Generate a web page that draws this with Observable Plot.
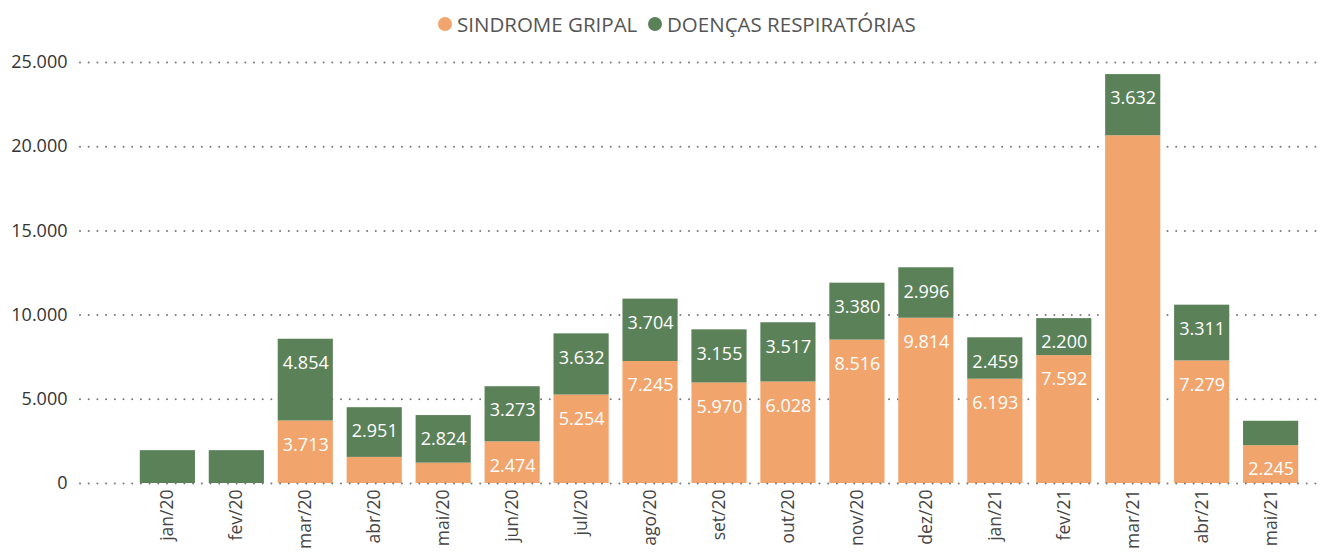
<!DOCTYPE html>
<html>
<head>
<meta charset="utf-8">
<script src="https://cdn.jsdelivr.net/npm/d3@7"></script>
<script src="https://cdn.jsdelivr.net/npm/@observablehq/plot@0.6"></script>
<style>
  html, body { margin: 0; padding: 0; background: #fff; }
  body { width: 1321px; height: 552px; overflow: hidden; font-family: "Open Sans", sans-serif; }
  #legend { position: relative; height: 44px; }
  .item { position: absolute; top: 10px; display: flex; align-items: center; font-size: 20.5px; color: #555; white-space: nowrap; line-height: 28px; }
  .dot { width: 14px; height: 14px; border-radius: 50%; margin-right: 5px; }
</style>
</head>
<body>
<div id="legend"></div>
<div id="chart"></div>
<script>
const months = ["jan/20","fev/20","mar/20","abr/20","mai/20","jun/20","jul/20","ago/20","set/20","out/20","nov/20","dez/20","jan/21","fev/21","mar/21","abr/21","mai/21"];
const series = ["SINDROME GRIPAL", "DOENÇAS RESPIRATÓRIAS"];
const colors = ["#F2A46D", "#5B8159"];
const sindromeGripal = [0, 0, 3713, 1550, 1210, 2474, 5254, 7245, 5970, 6028, 8516, 9814, 6193, 7592, 20650, 7279, 2245];
const doencasResp = [1950, 1950, 4854, 2951, 2824, 3273, 3632, 3704, 3155, 3517, 3380, 2996, 2459, 2200, 3632, 3311, 1450];
const yTicks = [0, 5000, 10000, 15000, 20000, 25000];
// segments whose value label is not shown in the original
const hiddenLabels = [["SINDROME GRIPAL", "mar/21"]];
const labelMin = 2000;

const data = [];
months.forEach((m, i) => data.push({month: m, series: series[0], value: sindromeGripal[i]}));
months.forEach((m, i) => data.push({month: m, series: series[1], value: doencasResp[i]}));

const fmt = d3.formatLocale({decimal: ",", thousands: ".", grouping: [3], currency: ["", ""]}).format(",d");
const isHidden = d => d.value < labelMin || hiddenLabels.some(([s, m]) => s === d.series && m === d.month);

// legend
const legend = document.getElementById("legend");
const legendPos = [438, 648];
series.forEach((s, i) => {
  const it = document.createElement("div");
  it.className = "item";
  it.style.left = legendPos[i] + "px";
  it.innerHTML = `<span class="dot" style="background:${colors[i]}"></span><span>${s}</span>`;
  legend.appendChild(it);
});

const chart = Plot.plot({
  width: 1321,
  height: 508,
  marginLeft: 80,
  marginRight: 0,
  marginTop: 18,
  marginBottom: 69,
  style: {fontFamily: "'Open Sans', sans-serif", fontSize: "18px", color: "#444", background: "#fff"},
  x: {domain: months, range: [126, 1312], padding: 0.2, round: false, label: null},
  y: {domain: [0, 25000], label: null},
  color: {domain: series, range: colors},
  marks: [
    Plot.ruleY(yTicks.filter(t => t > 0), {stroke: "#777", strokeWidth: 2, strokeDasharray: "0,8.7", strokeLinecap: "round"}),
    Plot.barY(data, {x: "month", y: "value", fill: "series", z: "series", order: series}),
    Plot.ruleY([0], {stroke: "#777", strokeWidth: 2, strokeDasharray: "0,8.7", strokeLinecap: "round"}),
    Plot.text(data, Plot.stackY2({x: "month", y: "value", z: "series", order: series,
      text: d => isHidden(d) ? "" : fmt(d.value), dy: 24, fill: "#fff", fontSize: 18})),
    Plot.axisY({ticks: yTicks, tickSize: 0, tickPadding: 13, tickFormat: fmt, fontSize: 18, fill: "#333"}),
    Plot.axisX({tickSize: 0, tickRotate: -90, tickPadding: 6, fontSize: 17.5, fill: "#444"})
  ]
});
document.getElementById("chart").appendChild(chart);
</script>
</body>
</html>
